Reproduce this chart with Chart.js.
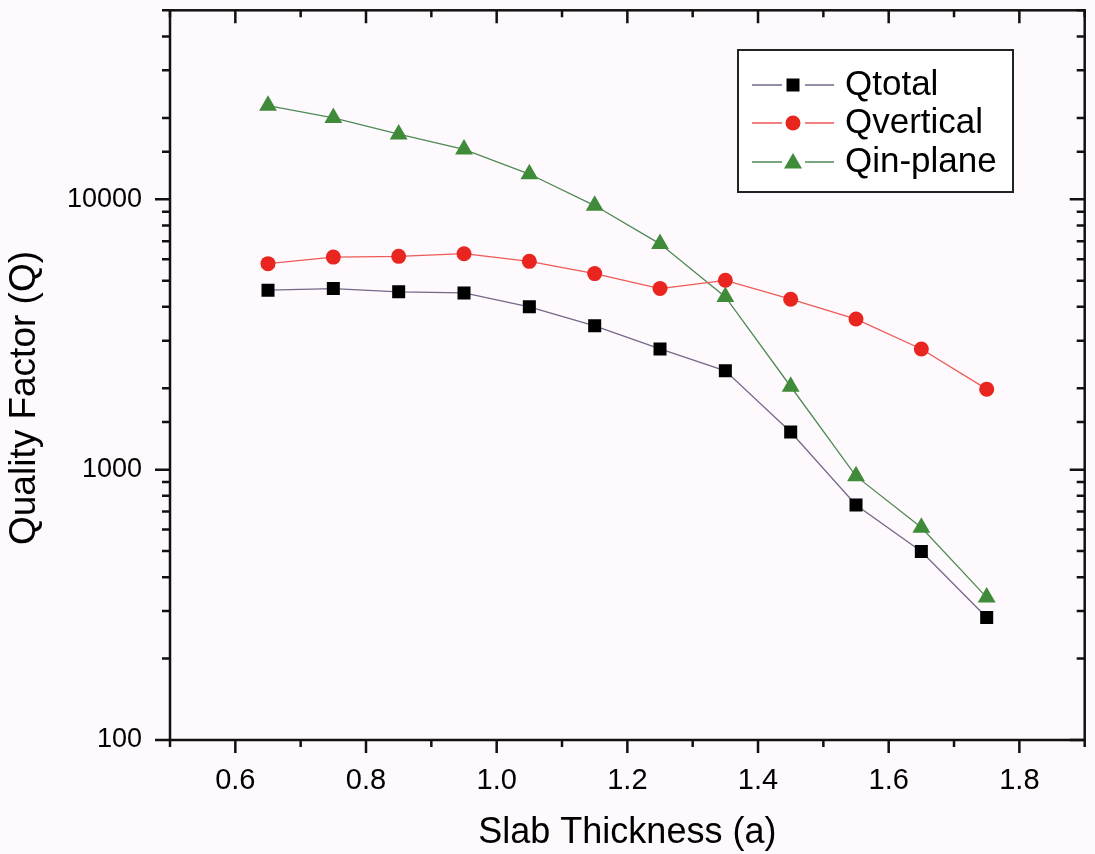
<!DOCTYPE html>
<html>
<head>
<meta charset="utf-8">
<script src="https://cdn.jsdelivr.net/npm/chart.js@4/dist/chart.umd.min.js"></script>
<style>
  html, body { margin: 0; padding: 0; background: #fdf9fc; }
  #wrap { width: 1095px; height: 854px; }
</style>
</head>
<body>
<div id="wrap"><canvas id="myChart" width="1095" height="854"></canvas></div>
<script>
// values
const thickness = [0.65, 0.75, 0.85, 0.95, 1.05, 1.15, 1.25, 1.35, 1.45, 1.55, 1.65, 1.75];
const qTotal    = [4610, 4675, 4545, 4505, 4000, 3405, 2795, 2320, 1377, 740, 498, 284];
const qVertical = [5780, 6110, 6150, 6290, 5895, 5310, 4675, 5015, 4270, 3605, 2795, 1985];
const qInPlane  = [22200, 20000, 17400, 15300, 12400, 9480, 6840, 4355, 2030, 946, 611, 337];
const yTickLabels = [100, 1000, 10000];
const xTickLabels = [0.6, 0.8, 1.0, 1.2, 1.4, 1.6, 1.8];

const FONT = 'Arial, "Liberation Sans", sans-serif';

function pts(ys) {
    return thickness.map((x, i) => ({ x: x, y: ys[i] }));
}

function isXLabel(v) {
    return xTickLabels.some(t => Math.abs(t - v) < 1e-6);
}
function isYLabel(v) {
    return yTickLabels.some(t => Math.abs(t - v) < 1e-6);
}

// fixed box sizes so the plot area lands where the figure has it
function fixBox(width, height) {
    return s => {
        if (width) s.width = width;
        if (height) s.height = height;
        s.paddingTop = 0; s.paddingBottom = 0;
        s.paddingLeft = 0; s.paddingRight = 0;
    };
}

// frame + tick marks on all four sides (mirrored ones point inward)
const frameTicks = {
    id: 'frameTicks',
    afterDraw(chart) {
        const { ctx, chartArea: a } = chart;
        const xs = chart.scales.x, ys = chart.scales.y;
        ctx.save();
        ctx.strokeStyle = '#111';
        ctx.lineWidth = 2.5;
        ctx.beginPath();
        xs.ticks.forEach(t => {
            const px = xs.getPixelForValue(t.value);
            const len = isXLabel(t.value) ? 13 : 7;
            ctx.moveTo(px, a.bottom); ctx.lineTo(px, a.bottom + len);
            ctx.moveTo(px, a.top); ctx.lineTo(px, a.top + len);
        });
        ys.ticks.forEach(t => {
            const py = ys.getPixelForValue(t.value);
            const len = isYLabel(t.value) ? 15 : 8;
            ctx.moveTo(a.left, py); ctx.lineTo(a.left - len, py);
            ctx.moveTo(a.right, py); ctx.lineTo(a.right - len, py);
        });
        ctx.stroke();
        ctx.strokeRect(a.left, a.top, a.right - a.left, a.bottom - a.top);

        // y axis title, sits a little below the plot's middle in the figure
        ctx.fillStyle = '#000';
        ctx.font = '37px ' + FONT;
        ctx.textAlign = 'center';
        ctx.textBaseline = 'middle';
        ctx.translate(25, 398);
        ctx.rotate(-Math.PI / 2);
        ctx.fillText('Quality Factor (Q)', 0, 0);
        ctx.restore();
    }
};

// legend box inside the plot: line - marker - line, then label
const boxLegend = {
    id: 'boxLegend',
    afterDraw(chart) {
        const ctx = chart.ctx;
        ctx.save();
        ctx.fillStyle = '#fff';
        ctx.fillRect(738, 50, 275, 142);
        ctx.strokeStyle = '#222';
        ctx.lineWidth = 2;
        ctx.strokeRect(738, 50, 275, 142);
        const rows = [85, 123, 162];
        chart.data.datasets.forEach((ds, i) => {
            const y = rows[i];
            ctx.strokeStyle = ds.borderColor;
            ctx.lineWidth = 1.5;
            ctx.beginPath();
            ctx.moveTo(752, y); ctx.lineTo(782, y);
            ctx.moveTo(805, y); ctx.lineTo(834, y);
            ctx.stroke();
            ctx.fillStyle = ds.pointBackgroundColor;
            const cx = 793;
            ctx.beginPath();
            if (ds.pointStyle === 'rect') {
                ctx.rect(cx - 6.5, y - 6.5, 13, 13);
            } else if (ds.pointStyle === 'circle') {
                ctx.arc(cx, y, 7.5, 0, Math.PI * 2);
            } else {
                ctx.moveTo(cx, y - 9);
                ctx.lineTo(cx + 9, y + 6.5);
                ctx.lineTo(cx - 9, y + 6.5);
                ctx.closePath();
            }
            ctx.fill();
            ctx.fillStyle = '#000';
            ctx.font = '35px ' + FONT;
            ctx.textBaseline = 'middle';
            ctx.fillText(ds.label, 845, y);
        });
        ctx.restore();
    }
};

function initializeQChart() {
    const ctx = document.getElementById('myChart').getContext('2d');
    new Chart(ctx, {
        type: 'line',
        data: {
            datasets: [{
                label: 'Qtotal',
                data: pts(qTotal),
                borderColor: '#75688a',
                borderWidth: 1.3,
                pointStyle: 'rect',
                pointRadius: 9.2,
                pointBackgroundColor: '#000',
                pointBorderWidth: 0
            }, {
                label: 'Qvertical',
                data: pts(qVertical),
                borderColor: '#ee5a55',
                borderWidth: 1.3,
                pointStyle: 'circle',
                pointRadius: 7.5,
                pointBackgroundColor: '#e8251e',
                pointBorderWidth: 0
            }, {
                label: 'Qin-plane',
                data: pts(qInPlane),
                borderColor: '#4f8a55',
                borderWidth: 1.3,
                pointStyle: 'triangle',
                pointRadius: 10.3,
                pointBackgroundColor: '#3f8b3a',
                pointBorderWidth: 0
            }]
        },
        options: {
            responsive: false,
            animation: false,
            layout: { padding: { top: 10, right: 7, left: 0, bottom: 0 } },
            plugins: {
                legend: { display: false },
                tooltip: { enabled: false }
            },
            scales: {
                x: {
                    type: 'linear',
                    min: 0.5,
                    max: 1.9,
                    grid: { display: false, drawTicks: false },
                    border: { display: false },
                    afterFit: fixBox(0, 114),
                    ticks: {
                        stepSize: 0.1,
                        autoSkip: false,
                        maxRotation: 0,
                        padding: 24,
                        color: '#000',
                        font: { family: FONT, size: 29 },
                        callback: v => isXLabel(v) ? v.toFixed(1) : ''
                    },
                    title: {
                        display: true,
                        text: 'Slab Thickness (a)',
                        color: '#000',
                        font: { family: FONT, size: 36, lineHeight: 1 },
                        padding: { top: 0, bottom: 3 }
                    }
                },
                y: {
                    type: 'logarithmic',
                    min: 100,
                    max: 50000,
                    grid: { display: false, drawTicks: false },
                    border: { display: false },
                    afterFit: fixBox(170, 0),
                    ticks: {
                        autoSkip: false,
                        padding: 28,
                        color: '#000',
                        font: { family: FONT, size: 27 },
                        callback: v => isYLabel(v) ? String(v) : ''
                    }
                }
            }
        },
        plugins: [frameTicks, boxLegend]
    });
}

document.addEventListener('DOMContentLoaded', function () {
    initializeQChart();
});
</script>
</body>
</html>
